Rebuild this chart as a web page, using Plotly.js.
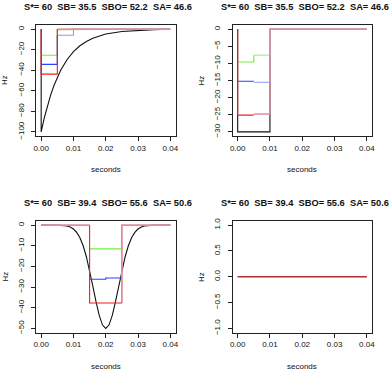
<!DOCTYPE html>
<html>
<head>
<meta charset="utf-8">
<script src="https://cdn.plot.ly/plotly-3.0.1.min.js"></script>
<style>
  html, body { margin: 0; padding: 0; background: #fff; }
  #plot { width: 389px; height: 371px; }
</style>
</head>
<body>
<div id="plot"></div>
<script>
// ---- data ----
var tickSec = [0, 0.01, 0.02, 0.03, 0.04];
var tickSecText = ['0.00', '0.01', '0.02', '0.03', '0.04'];

var titleTop = 'S*= 60  SB= 35.5  SBO= 52.2  SA= 46.6';
var titleBottom = 'S*= 60  SB= 39.4  SBO= 55.6  SA= 50.6';

// panel 1 (top left): decaying input
var p1BlackX = [0, 0, 0.001, 0.002, 0.003, 0.004, 0.005, 0.006, 0.008, 0.01, 0.012, 0.014, 0.016, 0.018, 0.02, 0.025, 0.03, 0.035, 0.04];
var p1BlackY = [0, -100, -85.9, -73.9, -63.5, -54.6, -46.9, -40.3, -29.8, -22.0, -16.2, -12.0, -8.9, -6.5, -4.8, -2.3, -1.1, -0.5, -0.2];
var p1GreenX = [0, 0.005, 0.005];
var p1GreenY = [-25.5, -25.5, 0];
var p1GreenTailX = [0.005, 0.01, 0.01, 0.04];
var p1GreenTailY = [-0.6, -0.6, 0, 0];
var p1BlueX = [0, 0.005, 0.005];
var p1BlueY = [-34.3, -34.3, -5.9];
var p1BlueTailX = [0.005, 0.01, 0.01, 0.04];
var p1BlueTailY = [-5.9, -5.9, 0, 0];
var p1RedX = [0, 0, 0.005, 0.005];
var p1RedY = [0, -43.8, -43.8, 0];
var p1RedTailX = [0.005, 0.01, 0.04];
var p1RedTailY = [-0.3, 0, 0];

// panel 2 (top right): rectangular input
var p2BlackX = [0, 0, 0.01, 0.01];
var p2BlackY = [0, -30, -30, 0];
var p2GreenX = [0, 0.005, 0.005];
var p2GreenY = [-9.6, -9.6, -7.6];
var p2GreenTailX = [0.005, 0.01, 0.01, 0.04];
var p2GreenTailY = [-7.6, -7.6, 0, 0];
var p2BlueX = [0, 0.005];
var p2BlueY = [-15.2, -15.2];
var p2BlueTailX = [0.005, 0.01, 0.01, 0.04];
var p2BlueTailY = [-15.5, -15.5, 0, 0];
var p2RedX = [0, 0, 0.005];
var p2RedY = [0, -25.1, -25.1];
var p2RedTailX = [0.005, 0.01, 0.01, 0.04];
var p2RedTailY = [-24.8, -24.8, 0, 0];

// panel 3 (bottom left): gaussian dip
var p3BlackX = [0, 0.004, 0.006, 0.008, 0.009, 0.01, 0.011, 0.012, 0.013, 0.014, 0.015, 0.016, 0.017, 0.018, 0.019, 0.02,
                0.021, 0.022, 0.023, 0.024, 0.025, 0.026, 0.027, 0.028, 0.029, 0.03, 0.031, 0.032, 0.034, 0.036, 0.04];
var p3BlackY = [0, 0, -0.1, -0.4, -0.9, -1.9, -3.5, -6.1, -10.0, -15.3, -22.0, -29.5, -37.2, -43.8, -48.4, -50,
                -48.4, -43.8, -37.2, -29.5, -22.0, -15.3, -10.0, -6.1, -3.5, -1.9, -0.9, -0.4, -0.1, 0, 0];
var p3GreenX = [0.015, 0.025];
var p3GreenY = [-11.5, -11.5];
var p3BlueX = [0.015, 0.02, 0.02, 0.025];
var p3BlueY = [-26.2, -26.2, -25.6, -25.6];
var p3RedX = [0.015, 0.015, 0.025];
var p3RedY = [0, -37.7, -37.7];
var p3RedTailX = [0, 0.015, null, 0.025, 0.025, 0.04];
var p3RedTailY = [0, 0, null, -37.7, 0, 0];

// panel 4 (bottom right): flat
var p4X = [0, 0.04];
var p4Y = [0, 0];

// ---- styling ----
var FONT = 'Liberation Sans, Arial, Helvetica, sans-serif';
var C = {
  black: '#111111',
  green: '#74ee3a', greenTail: '#a8f284',
  blue: '#2f40ff', blueTail: '#8c98ff',
  red: '#ee1f1f', redTail: '#de8d9c'
};

function line(x, y, color, ax, w) {
  return {
    x: x, y: y, xaxis: 'x' + ax, yaxis: 'y' + ax,
    type: 'scatter', mode: 'lines', connectgaps: false,
    line: {color: color, width: w || 1.1},
    hoverinfo: 'skip', showlegend: false
  };
}

var data = [
  line(p1BlackX, p1BlackY, C.black, ''),
  line(p1GreenTailX, p1GreenTailY, C.greenTail, ''),
  line(p1GreenX, p1GreenY, C.green, ''),
  line(p1BlueTailX, p1BlueTailY, C.blueTail, ''),
  line(p1BlueX, p1BlueY, C.blue, ''),
  line(p1RedTailX, p1RedTailY, C.redTail, '', 1.8),
  line(p1RedX, p1RedY, C.red, ''),

  line(p2BlackX, p2BlackY, C.black, '2'),
  line(p2GreenTailX, p2GreenTailY, C.greenTail, '2'),
  line(p2GreenX, p2GreenY, C.green, '2'),
  line(p2BlueTailX, p2BlueTailY, C.blueTail, '2'),
  line(p2BlueX, p2BlueY, C.blue, '2'),
  line(p2RedTailX, p2RedTailY, C.redTail, '2', 1.5),
  line(p2RedX, p2RedY, C.red, '2'),

  line(p3BlackX, p3BlackY, C.black, '3'),
  line(p3GreenX, p3GreenY, C.green, '3'),
  line(p3BlueX, p3BlueY, C.blue, '3'),
  line(p3RedTailX, p3RedTailY, C.redTail, '3', 1.8),
  line(p3RedX, p3RedY, C.red, '3'),

  line(p4X, p4Y, C.black, '4', 1),
  line(p4X, p4Y, '#cc2a30', '4', 1)
];

function xax(domain, anchor) {
  return {
    domain: domain, anchor: anchor, range: [-0.0016, 0.0416],
    tickvals: tickSec, ticktext: tickSecText,
    showline: true, mirror: true, linecolor: '#222', linewidth: 1,
    ticks: 'outside', ticklen: 4, tickcolor: '#222', tickwidth: 1,
    showgrid: false, zeroline: false, fixedrange: true,
    tickfont: {family: FONT, size: 8, color: '#111'}
  };
}
function yax(domain, anchor, range, tickvals, fmt) {
  return {
    domain: domain, anchor: anchor, range: range, tickvals: tickvals,
    tickformat: fmt || '', tickangle: -90, ticklabelstandoff: 4,
    showline: true, mirror: true, linecolor: '#222', linewidth: 1,
    ticks: 'outside', ticklen: 4, tickcolor: '#222', tickwidth: 1,
    showgrid: false, zeroline: false, fixedrange: true,
    tickfont: {family: FONT, size: 8, color: '#111'}
  };
}

var W = 389, H = 371;
var colL = [36 / W, 175.5 / W], colR = [232.5 / W, 372 / W];
var rowT = [1 - 136 / H, 1 - 25 / H], rowB = [1 - 332.5 / H, 1 - 221 / H];

function ann(text, xpx, ypx, opts) {
  var a = {
    text: text, x: xpx / W, y: 1 - ypx / H, xref: 'paper', yref: 'paper',
    xanchor: 'center', yanchor: 'middle', showarrow: false,
    font: {family: FONT, size: 8, color: '#111'}
  };
  for (var k in opts) a[k] = opts[k];
  return a;
}
var titleFont = {family: FONT, size: 9.3, color: '#111', weight: 'bold'};
function nb(s) { return s.replace(/ /g, '\u00a0'); }

var layout = {
  width: W, height: H,
  margin: {l: 0, r: 0, t: 0, b: 0},
  paper_bgcolor: '#fff', plot_bgcolor: '#fff',
  xaxis: xax(colL, 'y'), yaxis: yax(rowT, 'x', [-104, 4], [0, -20, -40, -60, -80, -100]),
  xaxis2: xax(colR, 'y2'), yaxis2: yax(rowT, 'x2', [-31.2, 1.2], [0, -5, -10, -15, -20, -25, -30]),
  xaxis3: xax(colL, 'y3'), yaxis3: yax(rowB, 'x3', [-52, 2], [0, -10, -20, -30, -40, -50]),
  xaxis4: xax(colR, 'y4'), yaxis4: yax(rowB, 'x4', [-1.08, 1.08], [-1, -0.5, 0, 0.5, 1], '.1f'),
  annotations: [
    ann(nb(titleTop), 108, 7, {font: titleFont}),
    ann(nb(titleTop), 305, 7, {font: titleFont}),
    ann(nb(titleBottom), 108, 203.5, {font: titleFont}),
    ann(nb(titleBottom), 305, 203.5, {font: titleFont}),
    ann('Hz', 4.5, 80.5, {textangle: -90}),
    ann('Hz', 201, 80.5, {textangle: -90}),
    ann('Hz', 4.5, 277, {textangle: -90}),
    ann('Hz', 201, 277, {textangle: -90}),
    ann('seconds', 105.7, 169),
    ann('seconds', 302.3, 169),
    ann('seconds', 105.7, 366),
    ann('seconds', 302.3, 366)
  ]
};

Plotly.newPlot('plot', data, layout, {staticPlot: true, displayModeBar: false});
</script>
</body>
</html>
